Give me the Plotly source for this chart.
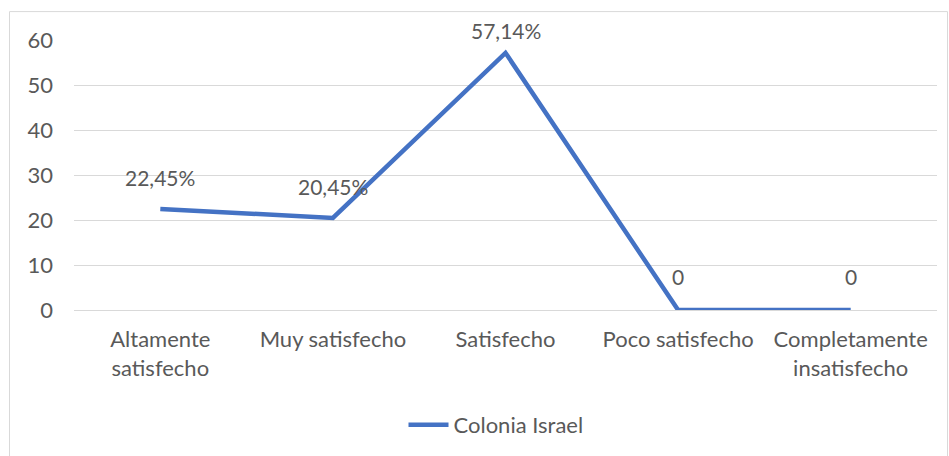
import plotly.graph_objects as go

categories = ["Altamente<br>satisfecho", "Muy satisfecho", "Satisfecho", "Poco satisfecho", "Completamente<br>insatisfecho"]
values = [22.45, 20.45, 57.14, 0, 0]
labels = ["22,45%", "20,45%", "57,14%", "0", "0"]
series_name = "Colonia Israel"
y_ticks = [0, 10, 20, 30, 40, 50, 60]

label_shift = [31, 31, 22, 34, 34]

FONT = "Lato"
GRAY = "#595959"
BLUE = "#4472C4"

fig = go.Figure()
fig.add_trace(go.Scatter(
    x=categories, y=values, mode="lines", name=series_name,
    line=dict(color=BLUE, width=4.5),
))

for c, v, t, s in zip(categories, values, labels, label_shift):
    fig.add_annotation(x=c, y=v, text=t, showarrow=False, yshift=s,
                       font=dict(family=FONT, size=21, color=GRAY))

L, R, T, B = 74, 12, 40, 145
W, H = 949, 456
pw = W - L - R
ph = H - T - B

fig.add_shape(type="rect", xref="paper", yref="paper",
              x0=(9.5 - L) / pw, x1=(947.5 - L) / pw,
              y0=-(H + 5 - T - ph) / ph, y1=1 + (T - 11.5) / ph,
              line=dict(color="#D9D9D9", width=1), fillcolor="rgba(0,0,0,0)", layer="below")

fig.update_layout(
    width=W, height=H,
    margin=dict(l=L, r=R, t=T, b=B),
    paper_bgcolor="white", plot_bgcolor="white",
    font=dict(family=FONT, size=22, color=GRAY),
    showlegend=True,
    legend=dict(orientation="h", x=(496 - L) / pw, xanchor="center", y=(ph - (425 - T)) / ph, yanchor="middle",
                font=dict(family=FONT, size=22, color=GRAY), itemwidth=40),
    xaxis=dict(type="category", showgrid=False, showline=False, zeroline=False,
               ticks="", ticklabelstandoff=14, tickfont=dict(family=FONT, size=22, color=GRAY),
               range=[-0.5, len(categories) - 0.5]),
    yaxis=dict(range=[0, 60], tickvals=y_ticks, showgrid=True, gridcolor="#D9D9D9", gridwidth=1,
               zeroline=True, zerolinecolor="#D9D9D9", zerolinewidth=1, showline=False,
               ticks="", ticklabelstandoff=20, tickfont=dict(family=FONT, size=22, color=GRAY)),
)

fig.write_html("out.html")
